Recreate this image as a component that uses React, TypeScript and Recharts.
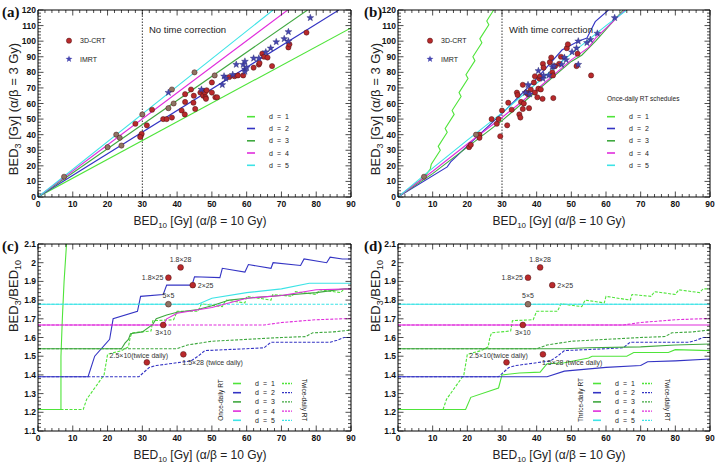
import React from 'react';
import { ComposedChart, Line, Scatter, XAxis, YAxis, ReferenceLine } from 'recharts';

// ---- axes ----
const X_MAJOR = [0, 10, 20, 30, 40, 50, 60, 70, 80, 90];
const BED3_MAJOR = [0, 10, 20, 30, 40, 50, 60, 70, 80, 90, 100, 110, 120];
const RATIO_MAJOR = [1.1, 1.2, 1.3, 1.4, 1.5, 1.6, 1.7, 1.8, 1.9, 2, 2.1];

// ---- panel (a): no time correction ----
const crtA = [
  [28, 47], [29.5, 39], [29.8, 40.5], [29.4, 38.5], [31.3, 46], [32.8, 56], [36, 50], [37, 50],
  [38.5, 51], [41.3, 55.5], [42.2, 53], [42.3, 61], [42.3, 66], [44, 69], [44.7, 60.5], [44.8, 65],
  [45.2, 56.5], [46.7, 67], [47.5, 68], [47.5, 65], [48, 67], [48.2, 64], [48.3, 63], [48.5, 68.5],
  [50, 73.5], [50, 67], [51, 64], [51.5, 64], [55, 77], [56.5, 77.5], [57.5, 78], [59, 78],
  [62, 83], [63.5, 85], [63.7, 86], [64.5, 92], [65, 90], [66, 89.5], [67.3, 84], [72, 96],
  [72.3, 98], [77.2, 105.5],
];
const refA = [
  [7.5, 13], [20, 32], [22.5, 40], [23.5, 38], [24, 33], [30, 53], [37.5, 57], [38.5, 69],
  [39, 60], [45, 80], [50.8, 78],
];
const imrtA = [
  [37.5, 67], [47, 69], [53, 72], [53.5, 77.5], [54, 76], [56, 78.5], [57, 85], [59, 85],
  [59.5, 87], [59.5, 82], [59.5, 80.5], [60, 83], [62, 89], [63.5, 89], [65.5, 93], [66.9, 95.5],
  [68.5, 99.5], [70.8, 101.5], [72, 106], [72, 100], [78.3, 115],
];
const a_d1 = [[0, 0], [90, 108.5]];
const a_d2 = [[0, 0], [86.5, 120]];
const a_d3 = [[0, 0], [77.5, 120]];
const a_d4 = [[0, 0], [71.8, 120]];
const a_d5 = [[0, 0], [67.6, 120]];

// ---- panel (b): with time correction ----
const crtB = [
  [20.5, 32], [21, 33.5], [23.5, 40], [23.5, 38], [27, 50], [28.5, 47], [29, 50], [29.5, 39],
  [30, 55.5], [31.5, 46], [31.8, 60.5], [32.8, 56], [34.3, 67], [34.5, 65.5], [35, 53], [35.3, 51],
  [35.5, 61], [36, 72], [36, 56.5], [36.3, 60], [37, 67], [37.5, 66], [37.8, 57], [38.3, 69],
  [39.2, 73.5], [39.5, 77.5], [39.5, 67], [40.2, 64], [40.5, 69.5], [40.8, 76], [41, 77.5], [41.2, 69],
  [41.8, 85.5], [42, 83], [41.7, 63], [43.8, 86.5], [44.2, 89.5], [44.5, 80], [44.7, 78], [44.8, 63.5],
  [45.3, 84], [46.5, 85.5], [47, 90], [48.7, 95.5], [49, 98], [51.5, 84], [51.8, 92], [55.7, 78],
];
const refB = [[7.5, 13], [22.5, 40]];
const imrtB = [
  [36.8, 67], [37.5, 72], [38, 66], [40.5, 81], [41.8, 76], [42, 78], [43.5, 78], [44.5, 83.5],
  [45, 84], [47.2, 85], [48, 89.5], [48.5, 88], [50.2, 93], [51.5, 95.5], [52, 100], [52, 85],
  [54.5, 99], [55.5, 101], [57.5, 105], [62.5, 115],
];
const b_d1 = [
  [0, 0], [7.5, 12.5], [9.3, 18], [9.6, 21], [12.2, 30], [11.6, 32.5], [14.2, 41.5], [13.6, 44],
  [16.2, 53], [15.6, 55.5], [18.2, 64.5], [17.6, 67], [20.2, 76], [19.6, 78.5], [22.2, 87.5],
  [21.6, 90], [24.2, 99], [23.6, 101.5], [26.2, 110.5], [25.6, 113], [27.6, 120],
];
const b_d2 = [
  [0, 0], [14.2, 19.3], [15.2, 22.5], [22, 37], [31, 55.7], [40, 76], [47.3, 94.3], [52, 100],
  [54.5, 102], [56.9, 112.5], [60.7, 120],
];
const b_d3 = [[0, 0], [10, 15], [20, 32], [30, 49], [40, 68], [50, 87], [53, 91], [57, 100], [65, 120]];
const b_d4 = [[0, 0], [10, 16.5], [20, 34], [30, 51], [40, 69], [50, 88], [55, 96], [57, 102], [65.5, 120]];
const b_d5 = [[0, 0], [10, 18.5], [20, 36.5], [30, 54], [40, 73], [50, 92], [60, 110], [66, 120]];

// ---- panels (c), (d): BED3/BED10 ratio ----
const ratioPoints = [
  { x: 41, y: 1.975, label: '1.8×28' },
  { x: 37.5, y: 1.92, label: '1.8×25' },
  { x: 44.5, y: 1.88, label: '2×25' },
  { x: 37.5, y: 1.778, label: '5×5' },
  { x: 36, y: 1.667, label: '3×10' },
  { x: 31.3, y: 1.467, label: '2.5×10(twice daily)' },
  { x: 41.8, y: 1.51, label: '1.5×28 (twice daily)' },
];

// once-daily (c, solid)
const c_d1 = [[0, 1.215], [6.6, 1.215], [6.6, 1.5], [7.0, 1.7], [7.5, 1.9], [8.2, 2.1]];
const c_d2 = [
  [0, 1.39], [14.4, 1.39], [16.3, 1.5], [20.6, 1.59], [21.6, 1.7], [28.6, 1.74], [29.5, 1.82],
  [36, 1.83], [37, 1.88], [44.3, 1.88], [45, 1.925], [52.3, 1.92], [53, 1.97], [59.5, 1.95],
  [60.5, 1.99], [67, 1.97], [67.6, 2.0], [75.5, 1.985], [76.5, 2.02], [83, 2.0], [84, 2.03],
  [87.5, 2.02], [90, 2.02],
];
const c_d3 = [
  [0, 1.54], [24, 1.54], [25, 1.57], [26, 1.59], [26.6, 1.62], [30, 1.63], [33, 1.67], [34, 1.7],
  [37, 1.72], [40, 1.735], [46, 1.75], [50, 1.77], [55, 1.8], [60, 1.81], [70, 1.825], [80, 1.84],
  [88, 1.86], [90, 1.86],
];
const c_d4 = [[0, 1.667], [36, 1.667], [37, 1.7], [40, 1.73], [50, 1.76], [60, 1.81], [70, 1.825], [80, 1.855], [90, 1.86]];
const c_d5 = [[0, 1.778], [46, 1.778], [50, 1.81], [60, 1.84], [70, 1.86], [78, 1.89], [90, 1.89]];

// thrice-daily (d, solid)
const d_d1 = [
  [0, 1.215], [19.5, 1.215], [21, 1.28], [29, 1.33], [30, 1.4], [35, 1.41], [41, 1.415], [43, 1.46],
  [48, 1.465], [55, 1.49], [56, 1.5], [66, 1.5], [68, 1.52], [78, 1.52], [80, 1.535], [90, 1.53],
];
const d_d2 = [[0, 1.39], [43, 1.39], [48, 1.42], [60, 1.44], [70, 1.45], [72, 1.47], [80, 1.475], [90, 1.485]];
const d_d3 = [[0, 1.54], [48, 1.54], [55, 1.545], [70, 1.55], [80, 1.56], [90, 1.565]];
const d_d4 = [[0, 1.667], [90, 1.667]];
const d_d5 = [[0, 1.778], [90, 1.778]];

// twice-daily (c and d, dashed)
const tw_d1 = [
  [0, 1.215], [13, 1.215], [14, 1.27], [19, 1.4], [20, 1.51], [24, 1.53], [26, 1.55], [26.5, 1.6],
  [27, 1.625], [32.5, 1.635], [33, 1.69], [39, 1.695], [40, 1.74], [46, 1.74], [47, 1.78], [53, 1.765],
  [54, 1.8], [59.5, 1.785], [60, 1.82], [67, 1.8], [67.5, 1.83], [73, 1.82], [74, 1.845], [80, 1.83],
  [81, 1.855], [87, 1.84], [88, 1.86], [90, 1.86],
];
const tw_d2 = [
  [0, 1.39], [29, 1.39], [32, 1.44], [34, 1.45], [40, 1.465], [44, 1.475], [46, 1.5], [48, 1.53],
  [60, 1.54], [65, 1.545], [67, 1.575], [78, 1.575], [84, 1.575], [86, 1.585], [88, 1.6], [90, 1.6],
];
const tw_d3 = [[0, 1.54], [40, 1.54], [43, 1.56], [50, 1.58], [60, 1.59], [70, 1.6], [77, 1.605], [79, 1.625], [85, 1.63], [90, 1.64]];
const tw_d4 = [[0, 1.667], [65, 1.667], [70, 1.68], [80, 1.695], [90, 1.702]];
const tw_d5 = [[0, 1.778], [90, 1.778]];

const D_LABELS = ['1', '2', '3', '4', '5'];

// ---- style ----
const SANS = '"Liberation Sans", Arial, sans-serif';
const SERIF = '"Liberation Serif", "Times New Roman", serif';
const COLORS = ['#4fe43a', '#3434c4', '#3fa83f', '#e02ddc', '#3de3e6'];
const RED = '#b9292b';
const GREY = '#8e7464';
const STAR = '#4646b0';
const DOT_R = 2.6;
const LABEL_POS: Record<string, [number, number, 'start' | 'middle' | 'end']> = {
  '1.8×28': [0, -5, 'middle'],
  '1.8×25': [-5, 2.5, 'end'],
  '2×25': [5, 2.5, 'start'],
  '5×5': [0, -6.5, 'middle'],
  '3×10': [0, 10, 'middle'],
  '2.5×10(twice daily)': [-8, -4, 'middle'],
  '1.5×28 (twice daily)': [-1, 11, 'start'],
};

const toPts = (arr: number[][]) => arr.map(([x, y]) => ({ x, y }));

function withMinor(major: number[], parts = 5) {
  const out: number[] = [];
  for (let i = 0; i < major.length - 1; i++) {
    const step = (major[i + 1] - major[i]) / parts;
    for (let k = 0; k < parts; k++) out.push(+(major[i] + k * step).toFixed(4));
  }
  out.push(major[major.length - 1]);
  return out;
}

// ROOT-like ticks: drawn inward, labels only on majors
const makeTick = (side: string, majors: number[]) => (p: any) => {
  const v = Number(p.payload.value);
  const major = majors.some((m) => Math.abs(m - v) < 1e-6);
  const len = major ? 5.5 : 3;
  const { x, y } = p;
  if (side === 'bottom')
    return (
      <g>
        <line x1={x} x2={x} y1={y} y2={y - len} stroke="#000" strokeWidth={0.7} />
        {major && (
          <text x={x} y={y + 9.5} textAnchor="middle" fontFamily={SANS} fontWeight="bold" fontSize={8.5} fill="#111">
            {String(v)}
          </text>
        )}
      </g>
    );
  if (side === 'left')
    return (
      <g>
        <line x1={x} x2={x + len} y1={y} y2={y} stroke="#000" strokeWidth={0.7} />
        {major && (
          <text x={x - 2} y={y + 3} textAnchor="end" fontFamily={SANS} fontWeight="bold" fontSize={8.5} fill="#111">
            {String(v)}
          </text>
        )}
      </g>
    );
  if (side === 'top') return <line x1={x} x2={x} y1={y} y2={y + len} stroke="#000" strokeWidth={0.7} />;
  return <line x1={x} x2={x - len} y1={y} y2={y} stroke="#000" strokeWidth={0.7} />;
};

const circle = (fill: string) => (p: any) =>
  <circle cx={p.cx} cy={p.cy} r={DOT_R} fill={fill} stroke="#4a1414" strokeWidth={0.5} />;

const starPath = (cx: number, cy: number, R = 3.6, r = 1.5) => {
  let d = '';
  for (let i = 0; i < 10; i++) {
    const ang = -Math.PI / 2 + (i * Math.PI) / 5;
    const rad = i % 2 ? r : R;
    d += (i ? 'L' : 'M') + (cx + rad * Math.cos(ang)).toFixed(2) + ',' + (cy + rad * Math.sin(ang)).toFixed(2);
  }
  return d + 'Z';
};
const star = (p: any) => <path d={starPath(p.cx, p.cy)} fill={STAR} stroke="#25256e" strokeWidth={0.4} />;

const labeledDot = (p: any) => {
  const lbl = p.payload.label as string;
  const [dx, dy, anchor] = LABEL_POS[lbl];
  return (
    <g>
      <text x={p.cx + dx} y={p.cy + dy} textAnchor={anchor} fontFamily={SANS} fontSize={7} fill="#333">
        {lbl}
      </text>
      <circle cx={p.cx} cy={p.cy} r={2.9} fill={lbl === '5×5' ? GREY : RED} stroke="#4a1414" strokeWidth={0.5} />
    </g>
  );
};

const seg = (key: string, data: number[][], color: string, dashed = false) => (
  <Line
    key={key}
    data={toPts(data)}
    dataKey="y"
    type="linear"
    stroke={color}
    strokeWidth={1.1}
    strokeDasharray={dashed ? '3 1.5' : undefined}
    dot={false}
    activeDot={false}
    isAnimationActive={false}
    legendType="none"
  />
);

function Panel({ left, top, narrow, yMajor, children, overlay }: any) {
  const xTicks = withMinor(X_MAJOR);
  const yTicks = withMinor(yMajor);
  const yDomain = [yMajor[0], yMajor[yMajor.length - 1]];
  return (
    <div style={{ position: 'absolute', left, top, width: 362, height: 234 }}>
      <ComposedChart width={362} height={234} margin={{ top: 9, right: narrow ? 13 : 10, bottom: 17, left: 8 }}>
        <XAxis type="number" dataKey="x" domain={[0, 90]} ticks={xTicks} interval={0} height={20} tickLine={false}
          tickSize={0} tickMargin={0} tick={makeTick('bottom', X_MAJOR)} axisLine={{ stroke: '#000' }} allowDataOverflow />
        <XAxis xAxisId="t" orientation="top" type="number" dataKey="x" domain={[0, 90]} ticks={xTicks} interval={0}
          height={1} tickLine={false} tickSize={0} tickMargin={0} tick={makeTick('top', X_MAJOR)}
          axisLine={{ stroke: '#000' }} allowDataOverflow />
        <YAxis type="number" dataKey="y" domain={yDomain} ticks={yTicks} interval={0} width={narrow ? 28 : 30}
          tickLine={false} tickSize={0} tickMargin={0} tick={makeTick('left', yMajor)} axisLine={{ stroke: '#000' }}
          allowDataOverflow />
        <YAxis yAxisId="r" orientation="right" type="number" domain={yDomain} ticks={yTicks} interval={0} width={1}
          tickLine={false} tickSize={0} tickMargin={0} tick={makeTick('right', yMajor)} axisLine={{ stroke: '#000' }}
          allowDataOverflow />
        {children}
      </ComposedChart>
      <svg width={362} height={234} style={{ position: 'absolute', left: 0, top: 0, pointerEvents: 'none' }}>
        {overlay}
      </svg>
    </div>
  );
}

const PanelTag = ({ t }: { t: string }) => (
  <text x={2} y={17} fontFamily={SERIF} fontWeight="bold" fontSize={15} fill="#111">{t}</text>
);

const XTitle = ({ cx }: { cx: number }) => (
  <text x={cx} y={225} textAnchor="middle" fontFamily={SANS} fontSize={12} fill="#222">
    BED<tspan dy={3} fontSize={8}>10</tspan>
    <tspan dy={-3}> [Gy] (α/β = 10 Gy)</tspan>
  </text>
);

const YTitleBed = () => (
  <text transform="translate(17.5,109) rotate(-90)" textAnchor="middle" fontFamily={SANS} fontSize={13} fill="#222">
    BED<tspan dy={3} fontSize={9}>3</tspan>
    <tspan dy={-3}> [Gy] (α/β = 3 Gy)</tspan>
  </text>
);

const YTitleRatio = () => (
  <text transform="translate(17.5,62) rotate(-90)" textAnchor="middle" fontFamily={SANS} fontSize={13} fill="#222">
    BED<tspan dy={3} fontSize={9}>3</tspan>
    <tspan dy={-3}>/BED</tspan>
    <tspan dy={3} fontSize={9}>10</tspan>
  </text>
);

const MarkerLegend = ({ x }: { x: number }) => (
  <g fontFamily={SANS} fontSize={7} fill="#222">
    <circle cx={x} cy={40.7} r={DOT_R} fill={RED} stroke="#4a1414" strokeWidth={0.5} />
    <text x={x + 11} y={43}>3D-CRT</text>
    <path d={starPath(x, 59)} fill={STAR} />
    <text x={x + 11} y={61.5}>IMRT</text>
  </g>
);

const DLegend = ({ x0, ys, dashX }: { x0: number; ys: number[]; dashX?: number }) => (
  <g fontFamily={SANS} fontSize={7} fill="#222">
    {D_LABELS.map((d, i) => (
      <g key={d}>
        <line x1={x0} x2={x0 + 8} y1={ys[i]} y2={ys[i]} stroke={COLORS[i]} strokeWidth={1.6} />
        <text x={x0 + 22} y={ys[i] + 2.5}>d</text>
        <text x={x0 + 30} y={ys[i] + 2.5}>=</text>
        <text x={x0 + 38} y={ys[i] + 2.5}>{d}</text>
        {dashX !== undefined && (
          <line x1={dashX} x2={dashX + 10} y1={ys[i]} y2={ys[i]} stroke={COLORS[i]} strokeWidth={1.3} strokeDasharray="2 1" />
        )}
      </g>
    ))}
  </g>
);

const TOP_ROWS = [116.7, 128.5, 140.8, 153, 165.3];
const BOTTOM_ROWS = [149.5, 158.7, 167.9, 177.1, 186.3];

export default function App() {
  const once = [c_d1, c_d2, c_d3, c_d4, c_d5];
  const thrice = [d_d1, d_d2, d_d3, d_d4, d_d5];
  const twice = [tw_d1, tw_d2, tw_d3, tw_d4, tw_d5];
  const linesA = [a_d1, a_d2, a_d3, a_d4, a_d5];
  const linesB = [b_d1, b_d2, b_d3, b_d4, b_d5];
  const ratioScatter = (
    <Scatter key="pts" data={ratioPoints} shape={labeledDot} isAnimationActive={false} legendType="none" />
  );
  return (
    <div style={{ position: 'absolute', left: 0, top: 0, width: 724, height: 467, background: '#fff' }}>
      <Panel
        left={0}
        top={0}
        yMajor={BED3_MAJOR}
        overlay={
          <g>
            <PanelTag t="(a)" />
            <XTitle cx={200} />
            <YTitleBed />
            <text x={149} y={33} fontFamily={SANS} fontSize={9.5} fill="#222">No time correction</text>
            <MarkerLegend x={69} />
            <DLegend x0={247} ys={TOP_ROWS} />
          </g>
        }
      >
        <ReferenceLine x={30} stroke="#222" strokeDasharray="1.5 1.5" strokeWidth={0.9} />
        {linesA.map((l, i) => seg('a' + i, l, COLORS[i]))}
        <Scatter data={toPts(crtA)} shape={circle(RED)} isAnimationActive={false} legendType="none" />
        <Scatter data={toPts(refA)} shape={circle(GREY)} isAnimationActive={false} legendType="none" />
        <Scatter data={toPts(imrtA)} shape={star} isAnimationActive={false} legendType="none" />
      </Panel>

      <Panel
        left={362}
        top={0}
        narrow
        yMajor={BED3_MAJOR}
        overlay={
          <g>
            <PanelTag t="(b)" />
            <XTitle cx={197} />
            <YTitleBed />
            <text x={147} y={33} fontFamily={SANS} fontSize={9.5} fill="#222">With time correction</text>
            <MarkerLegend x={68} />
            <text x={245} y={100.5} fontFamily={SANS} fontSize={6.5} fill="#222">Once-daily RT schedules</text>
            <DLegend x0={245} ys={TOP_ROWS} />
          </g>
        }
      >
        <ReferenceLine x={30} stroke="#222" strokeDasharray="1.5 1.5" strokeWidth={0.9} />
        {linesB.map((l, i) => seg('b' + i, l, COLORS[i]))}
        <Scatter data={toPts(crtB)} shape={circle(RED)} isAnimationActive={false} legendType="none" />
        <Scatter data={toPts(refB)} shape={circle(GREY)} isAnimationActive={false} legendType="none" />
        <Scatter data={toPts(imrtB)} shape={star} isAnimationActive={false} legendType="none" />
      </Panel>

      <Panel
        left={0}
        top={234}
        yMajor={RATIO_MAJOR}
        overlay={
          <g>
            <PanelTag t="(c)" />
            <XTitle cx={200} />
            <YTitleRatio />
            <DLegend x0={233} ys={BOTTOM_ROWS} dashX={282} />
            <text transform="translate(223,166) rotate(-90)" textAnchor="middle" fontFamily={SANS} fontSize={6.5} fill="#222">Once-daily RT</text>
            <text transform="translate(302,166) rotate(90)" textAnchor="middle" fontFamily={SANS} fontSize={6.5} fill="#222">Twice-daily RT</text>
          </g>
        }
      >
        {twice.map((l, i) => seg('ct' + i, l, COLORS[i], true))}
        {once.map((l, i) => seg('co' + i, l, COLORS[i]))}
        {ratioScatter}
      </Panel>

      <Panel
        left={362}
        top={234}
        narrow
        yMajor={RATIO_MAJOR}
        overlay={
          <g>
            <PanelTag t="(d)" />
            <XTitle cx={197} />
            <YTitleRatio />
            <DLegend x0={231} ys={BOTTOM_ROWS} dashX={280} />
            <text transform="translate(221,166) rotate(-90)" textAnchor="middle" fontFamily={SANS} fontSize={6.5} fill="#222">Thrice-daily RT</text>
            <text transform="translate(303,166) rotate(90)" textAnchor="middle" fontFamily={SANS} fontSize={6.5} fill="#222">Twice-daily RT</text>
          </g>
        }
      >
        {twice.map((l, i) => seg('dt' + i, l, COLORS[i], true))}
        {thrice.map((l, i) => seg('do' + i, l, COLORS[i]))}
        {ratioScatter}
      </Panel>
    </div>
  );
}
